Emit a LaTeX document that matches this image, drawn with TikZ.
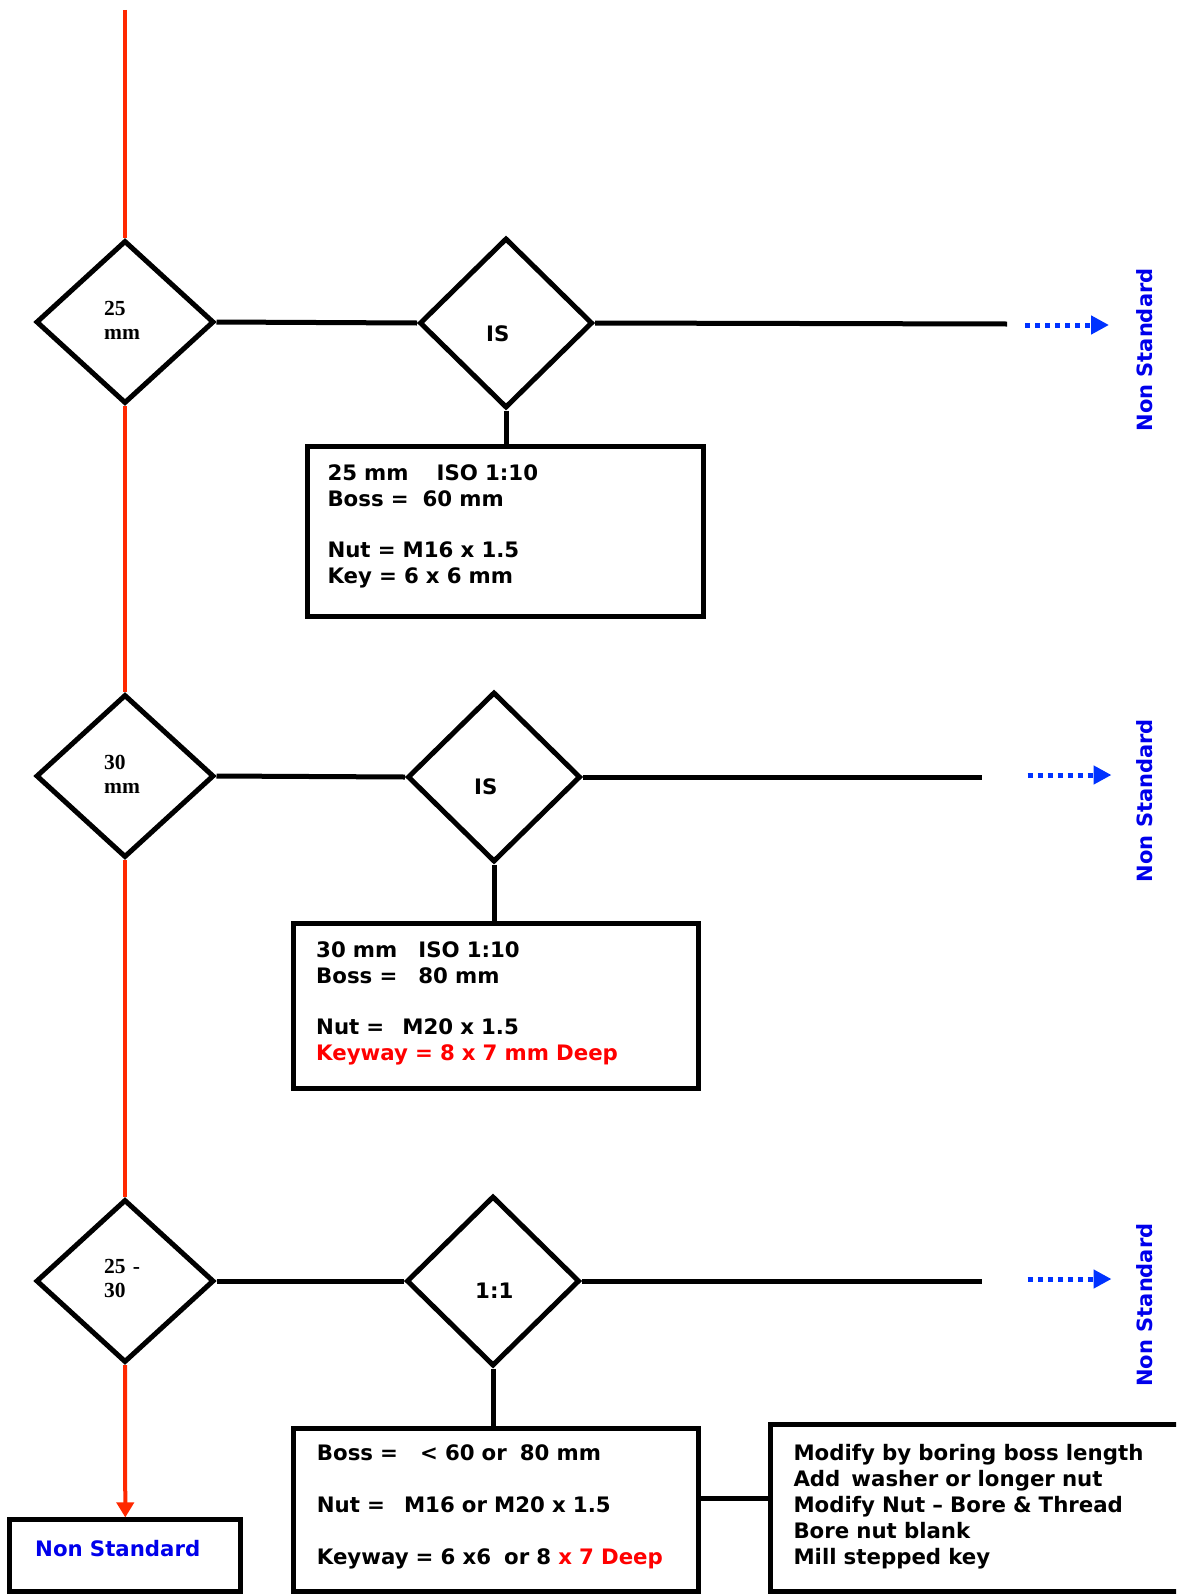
\documentclass[tikz,border=0pt]{standalone}
\usepackage{fontspec}
\setmainfont{DejaVu Sans}
\newfontfamily\shaftfont{Liberation Serif}
\usetikzlibrary{shapes.geometric,arrows.meta}
\definecolor{flowred}{RGB}{255,40,0}
\definecolor{nsblue}{RGB}{0,50,255}
\definecolor{textblue}{RGB}{0,0,235}
\definecolor{deepred}{RGB}{255,0,0}

\begin{document}
\begin{tikzpicture}[x=1pt,y=-1pt,
  shaftdiamond/.style={draw,diamond,line width=5pt,fill=white,inner sep=0pt,
    minimum width=178pt,minimum height=163pt},
  tapdiamond/.style={shaftdiamond,minimum width=173pt,minimum height=170pt},
  infobox/.style={draw,rectangle,line width=5pt,inner sep=0pt},
  infotext/.style={inner sep=0pt,anchor=base west,text width=390pt,
    font=\fontsize{21.3}{26}\selectfont\bfseries},
  shafttext/.style={inner sep=0pt,anchor=base west,text width=60pt,
    font=\shaftfont\fontsize{21.5}{24.3}\selectfont\bfseries},
  flowline/.style={draw=flowred,line width=4pt},
  link/.style={draw,line width=5pt},
  nsarrow/.style={draw=nsblue,line width=5pt,dash pattern=on 5pt off 5pt,
    -{Triangle[length=18pt,width=18pt]}},
  nstext/.style={inner sep=0pt,rotate=90,text=textblue,
    font=\fontsize{21}{26}\selectfont\bfseries}]

\useasboundingbox (0,0) rectangle (1176,1595);
\clip (0,0) rectangle (1176,1595);

\node[shaftdiamond] (d1) at (125,322) {};
\node[tapdiamond] (d2) at (506,323) {};
\node[shaftdiamond] (d3) at (125,776) {};
\node[tapdiamond] (d4) at (494,777) {};
\node[shaftdiamond] (d5) at (125,1281) {};
\node[tapdiamond] (d6) at (493,1281) {};

\node[shafttext] at (104,315) {25\\mm};
\node[shafttext] at (104,769) {30\\mm};
\node[shafttext] at (104,1273) {25 -\\30};
\node[infotext] at (486,341) {IS};
\node[infotext] at (474,794) {IS};
\node[infotext] at (475,1298) {1:1};

\node[infobox,minimum width=396pt,minimum height=170pt] (b1) at (505,531.7) {};
\node[infobox,minimum width=405pt,minimum height=165pt] (b2) at (495.8,1005.8) {};
\node[infobox,minimum width=405pt,minimum height=163.4pt] (b3) at (495.8,1510) {};
\node[infobox,minimum width=425pt,minimum height=166.7pt] (b4) at (982.5,1508.3) {};
\node[infobox,minimum width=230.7pt,minimum height=71.7pt] (b5) at (125.3,1555.8) {};

\node[infotext] (t1) at (327.3,480) {25 mm\hspace{28pt}ISO 1:10\\
  Boss =\hspace{14pt}60 mm\\[25pt]
  Nut = M16 x 1.5\\
  Key = 6 x 6 mm};
\node[infotext] (t2) at (316,957.3) {30 mm\hspace{21pt}ISO 1:10\\
  Boss =\hspace{21pt}80 mm\\[25pt]
  Nut =\hspace{18pt}M20 x 1.5\\
  \textcolor{deepred}{Keyway = 8 x 7 mm Deep}};
\node[infotext] (t3) at (316.7,1460) {Boss =\hspace{22pt}< 60 or\hspace{13pt}80 mm\\[26pt]
  Nut =\hspace{19pt}M16 or M20 x 1.5\\[26pt]
  Keyway = 6 x6\hspace{13pt}or 8 \textcolor{deepred}{x 7 Deep}};
\node[infotext] (t4) at (793.3,1460)
  {Modify by boring boss length\\
  Add\hspace{11pt}washer or longer nut\\
  Modify Nut -- Bore \& Thread\\
  Bore nut blank\\
  Mill stepped key};
\node[infotext,text=textblue] (t5) at (35,1556.7) {Non Standard};

\coordinate (start) at (125,10);
\coordinate (e1) at (1007,324);
\coordinate (e2) at (982,777);
\coordinate (e3) at (982,1281);
\coordinate (m) at (0,1498);

\draw[flowline] (start) -- (d1.north);
\draw[flowline] (d1.south) -- (d3.north);
\draw[flowline] (d3.south) -- (d5.north);
\draw[flowline,-{Triangle[length=15pt,width=17pt]}] (d5.south) -- (b5.north);

\draw[link] (d1.east) -- (d2.west);
\draw[link] (d2.east) -- (e1);
\draw[link] (d2.south) -- (d2.south |- b1.north);
\draw[link] (d3.east) -- (d4.west);
\draw[link] (d4.east) -- (e2);
\draw[link] (d4.south) -- (d4.south |- b2.north);
\draw[link] (d5.east) -- (d6.west);
\draw[link] (d6.east) -- (e3);
\draw[link] (d6.south) -- (d6.south |- b3.north);
\draw[link] (b3.east |- m) -- (b4.west |- m);

\coordinate (a1) at (1025,325);
\coordinate (a2) at (1027.5,775);
\coordinate (a3) at (1027.5,1279);
\draw[nsarrow] (a1) -- ++(84,0);
\draw[nsarrow] (a2) -- ++(84,0);
\draw[nsarrow] (a3) -- ++(84,0);

\node[nstext] (n1) at (1145,350) {Non Standard};
\node[nstext] (n2) at (1145,800.6) {Non Standard};
\node[nstext] (n3) at (1145,1305) {Non Standard};
\end{tikzpicture}
\end{document}
